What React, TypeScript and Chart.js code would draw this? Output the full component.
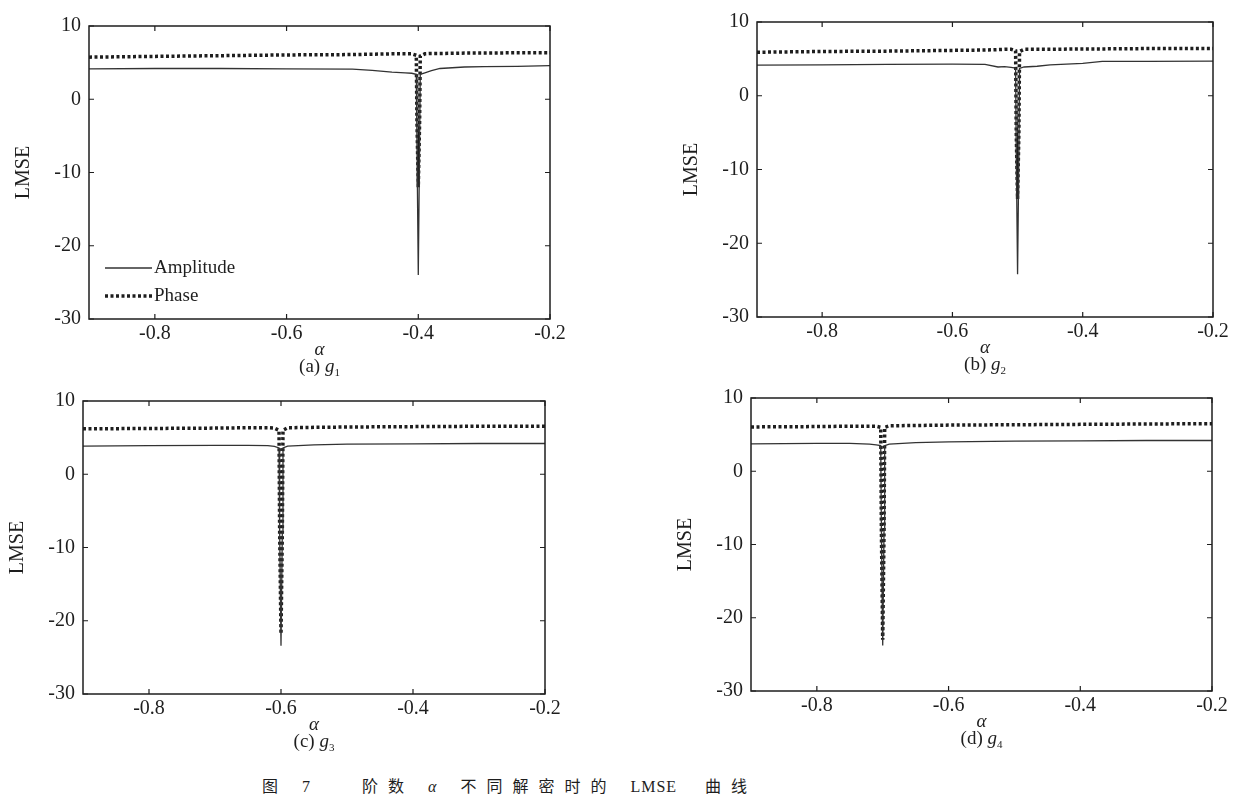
import { useEffect, useRef } from 'react';
import { Chart, registerables } from 'chart.js';

Chart.register(...registerables);

// shared axis ticks
const xTicks = [-0.8, -0.6, -0.4, -0.2];
const yTicks = [10, 0, -10, -20, -30];

// (a) g1
const alphaA = [-0.9, -0.8, -0.7, -0.6, -0.5, -0.47, -0.44, -0.42, -0.41, -0.403, -0.402, -0.4, -0.398, -0.397, -0.39, -0.38, -0.367, -0.33, -0.3, -0.25, -0.2];
const amplitudeA = [4.15, 4.2, 4.2, 4.15, 4.1, 3.95, 3.7, 3.6, 3.55, 3.4, -6, -24, -6, 3.4, 3.6, 3.9, 4.2, 4.4, 4.45, 4.5, 4.6];
const phaseA = [5.75, 5.85, 5.95, 6.05, 6.1, 6.15, 6.2, 6.2, 6.2, 6.0, -3, -12, -3, 5.9, 6.2, 6.25, 6.25, 6.3, 6.3, 6.35, 6.35];

// (b) g2
const alphaB = [-0.9, -0.8, -0.7, -0.6, -0.55, -0.53, -0.52, -0.51, -0.503, -0.502, -0.5, -0.498, -0.497, -0.49, -0.47, -0.45, -0.4, -0.37, -0.3, -0.2];
const amplitudeB = [4.15, 4.2, 4.25, 4.3, 4.25, 3.9, 3.95, 3.85, 3.75, -8, -24.2, -8, 3.7, 3.9, 4.0, 4.2, 4.4, 4.65, 4.65, 4.7];
const phaseB = [5.9, 6.0, 6.05, 6.15, 6.2, 6.25, 6.3, 6.3, 6.1, -5, -14, -5, 6.0, 6.3, 6.3, 6.3, 6.35, 6.35, 6.4, 6.4];

// (c) g3
const alphaC = [-0.9, -0.8, -0.7, -0.65, -0.62, -0.61, -0.603, -0.602, -0.6, -0.598, -0.597, -0.59, -0.55, -0.5, -0.4, -0.3, -0.2];
const amplitudeC = [3.85, 3.9, 3.95, 3.95, 3.9, 3.8, 3.6, -8, -23.4, -8, 3.6, 3.85, 4.0, 4.1, 4.15, 4.2, 4.2];
const phaseC = [6.2, 6.25, 6.3, 6.35, 6.35, 6.3, 6.0, -8, -21.8, -8, 6.0, 6.35, 6.4, 6.45, 6.5, 6.55, 6.55];

// (d) g4
const alphaD = [-0.9, -0.8, -0.75, -0.72, -0.71, -0.703, -0.702, -0.7, -0.698, -0.697, -0.69, -0.65, -0.6, -0.5, -0.4, -0.3, -0.2];
const amplitudeD = [3.75, 3.8, 3.8, 3.7, 3.6, 3.5, -8, -23.8, -8, 3.5, 3.7, 3.9, 4.0, 4.1, 4.15, 4.2, 4.2];
const phaseD = [6.05, 6.1, 6.15, 6.15, 6.15, 6.0, -8, -23, -8, 6.0, 6.2, 6.25, 6.3, 6.35, 6.4, 6.45, 6.5];

const SERIF = '"Liberation Serif", "DejaVu Serif", serif';
const INK = '#1e1e1e';
const PAD_L = 80;
const PAD_T = 12;
const PAD_R = 30;
const PAD_B = 32;

// box frame, inward ticks and the in-plot legend
const framePlugin = {
  id: 'frame',
  afterDatasetsDraw(chart: any, _args: any, opts: any) {
    const { ctx, chartArea: a, scales } = chart;
    ctx.save();
    ctx.strokeStyle = INK;
    ctx.lineWidth = 1.5;
    ctx.strokeRect(a.left, a.top, a.right - a.left, a.bottom - a.top);
    ctx.lineWidth = 1.2;
    ctx.beginPath();
    xTicks.forEach((v) => {
      const px = scales.x.getPixelForValue(v);
      ctx.moveTo(px, a.bottom);
      ctx.lineTo(px, a.bottom - 5);
      ctx.moveTo(px, a.top);
      ctx.lineTo(px, a.top + 5);
    });
    yTicks.forEach((v) => {
      const py = scales.y.getPixelForValue(v);
      ctx.moveTo(a.left, py);
      ctx.lineTo(a.left + 5, py);
      ctx.moveTo(a.right, py);
      ctx.lineTo(a.right - 5, py);
    });
    ctx.stroke();

    if (opts && opts.legend) {
      const x0 = a.left + 16;
      const y1 = a.bottom - 51;
      const y2 = a.bottom - 23;
      ctx.strokeStyle = '#333';
      ctx.lineWidth = 1.3;
      ctx.beginPath();
      ctx.moveTo(x0, y1);
      ctx.lineTo(x0 + 47, y1);
      ctx.stroke();
      ctx.strokeStyle = INK;
      ctx.lineWidth = 3.5;
      ctx.setLineDash([3, 2.5]);
      ctx.beginPath();
      ctx.moveTo(x0, y2);
      ctx.lineTo(x0 + 47, y2);
      ctx.stroke();
      ctx.setLineDash([]);
      ctx.fillStyle = INK;
      ctx.font = `19px ${SERIF}`;
      ctx.textBaseline = 'middle';
      ctx.fillText('Amplitude', x0 + 49, y1);
      ctx.fillText('Phase', x0 + 49, y2);
    }
    ctx.restore();
  },
};

type Box = { left: number; top: number; right: number; bottom: number };

type PanelProps = {
  box: Box;
  alpha: number[];
  amplitude: number[];
  phase: number[];
  legend?: boolean;
  letter: string;
  sub: string;
};

const Panel: React.FC<PanelProps> = ({ box, alpha, amplitude, phase, legend, letter, sub }) => {
  const canvasRef = useRef<HTMLCanvasElement | null>(null);
  const width = box.right - box.left + PAD_L + PAD_R;
  const height = box.bottom - box.top + PAD_T + PAD_B;

  useEffect(() => {
    const canvas = canvasRef.current;
    if (!canvas) return;

    const tickFont = { family: SERIF, size: 20 };

    const chart = new Chart(canvas, {
      type: 'line',
      data: {
        datasets: [
          {
            label: 'Amplitude',
            data: alpha.map((x, i) => ({ x, y: amplitude[i] })),
            borderColor: '#333',
            borderWidth: 1.3,
            pointRadius: 0,
            tension: 0,
          },
          {
            label: 'Phase',
            data: alpha.map((x, i) => ({ x, y: phase[i] })),
            borderColor: INK,
            borderWidth: 3.5,
            borderDash: [3, 2.5],
            borderCapStyle: 'butt',
            pointRadius: 0,
            tension: 0,
          },
        ],
      },
      options: {
        animation: false,
        responsive: false,
        events: [],
        layout: { padding: { top: PAD_T, right: PAD_R, left: 0, bottom: 0 } },
        plugins: {
          legend: { display: false },
          tooltip: { enabled: false },
          frame: { legend: !!legend },
        },
        scales: {
          x: {
            type: 'linear',
            min: -0.9,
            max: -0.2,
            grid: { display: false, drawTicks: false },
            border: { display: false },
            afterBuildTicks: (s: any) => {
              s.ticks = xTicks.map((value) => ({ value }));
            },
            afterFit: (s: any) => {
              s.height = PAD_B;
            },
            ticks: {
              color: INK,
              font: tickFont,
              padding: 3,
              maxRotation: 0,
              autoSkip: false,
              callback: (v: any) => String(v),
            },
          },
          y: {
            type: 'linear',
            min: -30,
            max: 10,
            grid: { display: false, drawTicks: false },
            border: { display: false },
            afterBuildTicks: (s: any) => {
              s.ticks = yTicks.map((value) => ({ value }));
            },
            afterFit: (s: any) => {
              s.width = PAD_L;
            },
            title: {
              display: true,
              text: 'LMSE',
              color: INK,
              font: { family: SERIF, size: 20 },
              padding: { top: 3, bottom: 0 },
            },
            ticks: {
              color: INK,
              font: tickFont,
              padding: 8,
              autoSkip: false,
              callback: (v: any) => String(v),
            },
          },
        },
      },
      plugins: [framePlugin],
    } as any);

    return () => {
      chart.destroy();
    };
  }, [alpha, amplitude, phase, legend]);

  const midX = (box.left + box.right) / 2;

  return (
    <>
      <canvas
        ref={canvasRef}
        width={width}
        height={height}
        style={{ position: 'absolute', left: box.left - PAD_L, top: box.top - PAD_T, width, height }}
      />
      <div
        style={{
          position: 'absolute',
          left: midX,
          top: box.bottom + 20,
          transform: 'translateX(-50%)',
          fontFamily: SERIF,
          fontStyle: 'italic',
          fontSize: 19,
          lineHeight: '19px',
          color: INK,
        }}
      >
        α
      </div>
      <div
        style={{
          position: 'absolute',
          left: midX,
          top: box.bottom + 37,
          transform: 'translateX(-50%)',
          fontFamily: SERIF,
          fontSize: 19,
          lineHeight: '20px',
          color: INK,
          whiteSpace: 'nowrap',
        }}
      >
        ({letter}) <i>g</i>
        <sub style={{ fontSize: 11, verticalAlign: '-4px' }}>{sub}</sub>
      </div>
    </>
  );
};

const App: React.FC = () => {
  const cjk = { letterSpacing: 10 };
  return (
    <div
      style={{
        position: 'absolute',
        left: 0,
        top: 0,
        width: 1236,
        height: 802,
        background: '#fff',
        overflow: 'hidden',
      }}
    >
      <Panel box={{ left: 89, top: 18, right: 550, bottom: 319 }} alpha={alphaA} amplitude={amplitudeA} phase={phaseA} legend letter="a" sub="1" />
      <Panel box={{ left: 757, top: 14, right: 1213, bottom: 317 }} alpha={alphaB} amplitude={amplitudeB} phase={phaseB} letter="b" sub="2" />
      <Panel box={{ left: 83, top: 393, right: 545, bottom: 694 }} alpha={alphaC} amplitude={amplitudeC} phase={phaseC} letter="c" sub="3" />
      <Panel box={{ left: 751, top: 390, right: 1212, bottom: 691 }} alpha={alphaD} amplitude={amplitudeD} phase={phaseD} letter="d" sub="4" />
      <div
        style={{
          position: 'absolute',
          left: 262,
          top: 778,
          fontFamily: '"Liberation Serif", "Noto Sans CJK SC", serif',
          fontSize: 16,
          lineHeight: '18px',
          whiteSpace: 'pre',
          color: INK,
        }}
      >
        <span style={cjk}>{'图 7   阶数 '}</span>
        <i style={cjk}>α</i>
        <span style={cjk}>{' 不同解密时的 '}</span>
        <span style={{ letterSpacing: 1 }}>LMSE</span>
        <span style={cjk}>{'  曲线'}</span>
      </div>
    </div>
  );
};

export default App;
